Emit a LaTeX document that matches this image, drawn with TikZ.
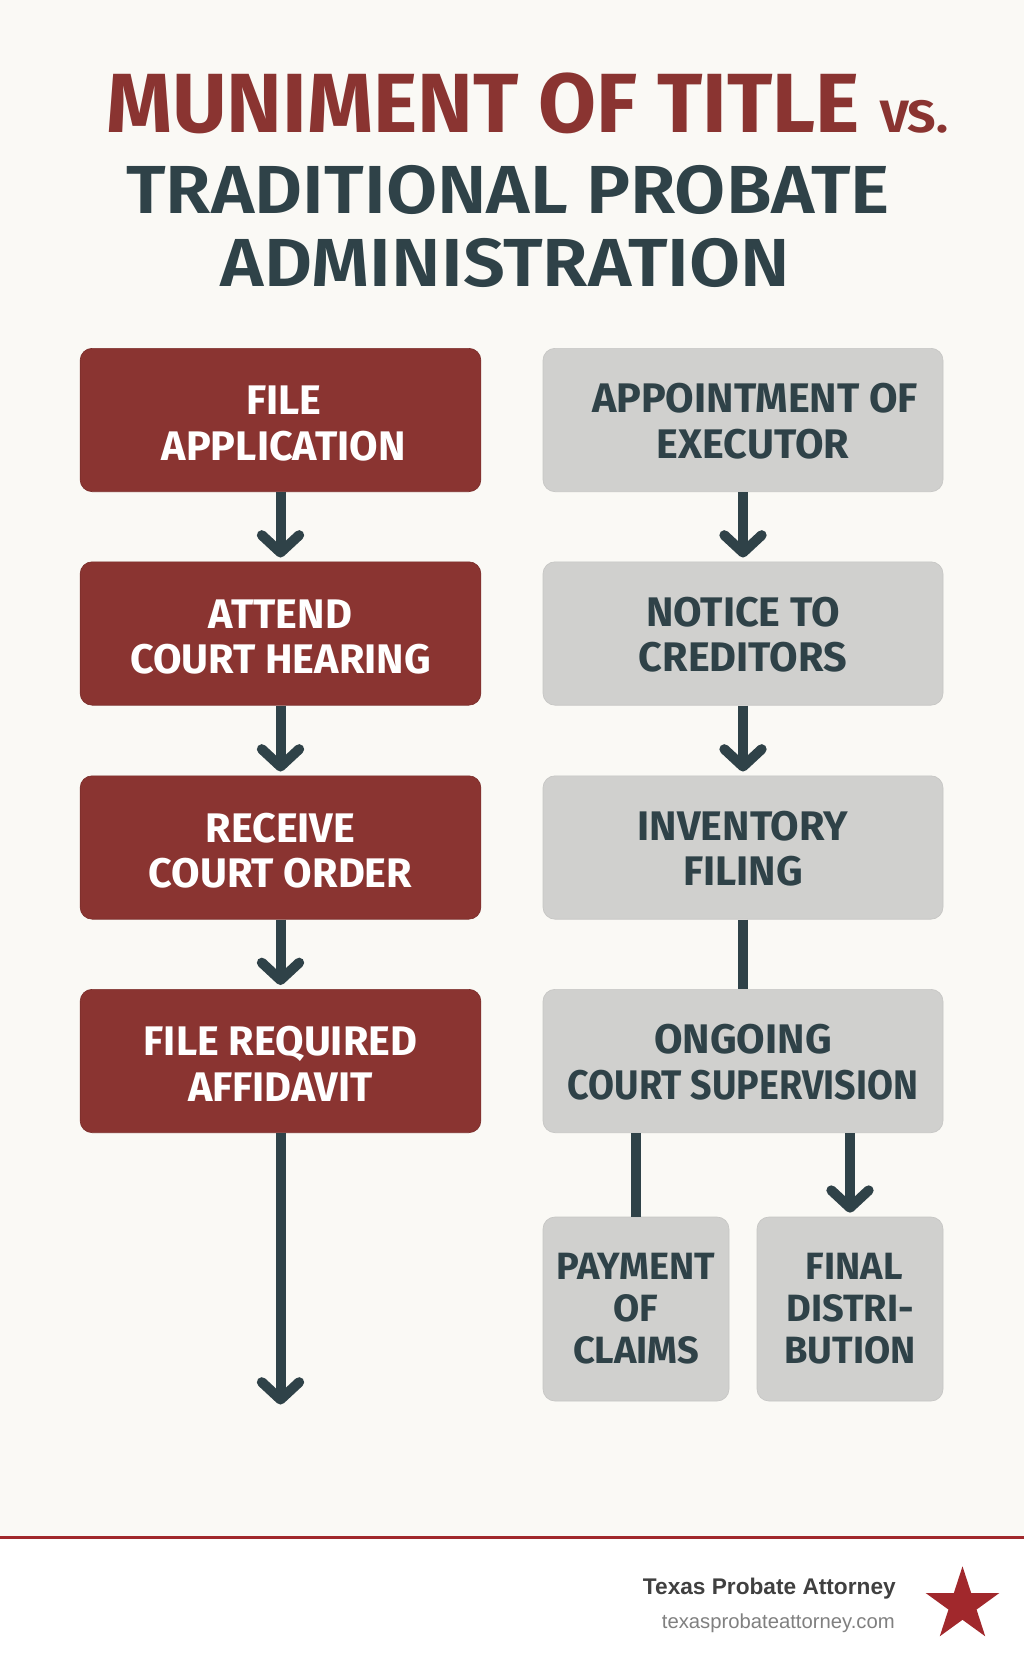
\documentclass[tikz,border=0pt]{standalone}
\usepackage{fontspec}
\setmainfont{Fira Sans}
\newfontfamily\footfont{Liberation Sans}
\newfontfamily\subtitlefont[FakeStretch=1.09]{Fira Sans SemiBold}
\newfontfamily\versusfont[FakeStretch=1.1]{Fira Sans}
\newfontfamily\narrowfont[FakeStretch=.91]{Fira Sans}
\usetikzlibrary{shapes.geometric,arrows.meta}
\definecolor{bgcol}{HTML}{FAF9F5}
\definecolor{redcol}{HTML}{8A3431}
\definecolor{slatecol}{HTML}{2F4248}
\definecolor{greycol}{HTML}{D0D0CE}
\definecolor{rulecol}{HTML}{A1282C}
\newcommand{\bigfont}{\bfseries\fontsize{63}{63}\selectfont}
\newcommand{\subfont}{\subtitlefont\fontsize{51}{51}\selectfont}
\newcommand{\stepfont}{\fontsize{31}{33.8}\selectfont\bfseries}
\newcommand{\smallfont}{\fontsize{28.5}{31.5}\selectfont\bfseries}
\tikzset{
  basebox/.style={rectangle,rounded corners=9pt,minimum height=107.5pt,align=center,
    font=\stepfont,inner sep=0pt},
  redbox/.style={basebox,fill=redcol,draw=redcol!90!black,line width=.5pt,text=white,minimum width=300.5pt,
    text height=60pt,text depth=0pt},
  greybox/.style={basebox,fill=greycol,draw=greycol!95!black,line width=.5pt,text=slatecol,minimum width=300pt,
    text height=57pt,text depth=0pt},
  smallbox/.style={basebox,fill=greycol,draw=greycol!95!black,line width=.5pt,text=slatecol,
    font=\smallfont,minimum width=139.5pt,minimum height=138pt},
  titletext/.style={inner sep=0pt,anchor=base},
  flowline/.style={draw=slatecol,line width=7.5pt},
  flowarrow/.style={flowline,-{Straight Barb[length=13pt,width=28pt,round]},shorten >=3pt}
}
\begin{document}
\begin{tikzpicture}[x=.75pt,y=-.75pt]
	\useasboundingbox (0,0) rectangle (1024,1666);
	\fill[white] (0,0) rectangle (1024,1666);
	\fill[bgcol] (0,0) rectangle (1024,1537);
	\draw[rulecol,line width=2.25pt] (0,1537.5) -- (1024,1537.5);
	% heading
	\node[titletext,text=redcol,font=\bigfont] (title) at (483,133) {MUNIMENT OF TITLE};
	\node[titletext,text=redcol,anchor=base west,font=\versusfont\fontsize{34}{34}\selectfont\bfseries] (versus) at (880,133) {VS.};
	\node[titletext,text=slatecol,font=\subfont] (subone) at (508,214) {TRADITIONAL PROBATE};
	\node[titletext,text=slatecol,font=\subfont] (subtwo) at (505.5,286) {ADMINISTRATION};
	% left column
	\node[redbox] (file) at (280.5,420) {\hspace*{4.8pt}FILE\\\hspace*{4.8pt}APPLICATION};
	\node[redbox] (attend) at (280.5,633.5) {ATTEND\\COURT HEARING};
	\node[redbox] (receive) at (280.5,847.5) {RECEIVE\\COURT ORDER};
	\node[redbox] (affidavit) at (280.5,1061) {FILE REQUIRED\\AFFIDAVIT};
	\coordinate (leftend) at (280.5,1404.5);
	% right column
	\node[greybox] (executor) at (743,420) {\hspace*{18pt}APPOINTMENT OF\\\hspace*{15pt}EXECUTOR};
	\node[greybox] (notice) at (743,633.5) {NOTICE TO\\CREDITORS};
	\node[greybox] (inventory) at (743,847.5) {INVENTORY\\FILING};
	\node[greybox] (ongoing) at (743,1061) {ONGOING\\{\narrowfont COURT SUPERVISION}};
	\node[smallbox] (payment) at (636,1309) {PAYMENT\\OF\\CLAIMS};
	\node[smallbox] (final) at (850,1309) {\hspace*{6.4pt}FINAL\\DISTRI-\\BUTION};
	% connectors
	\draw[flowarrow] (file) -- (attend);
	\draw[flowarrow] (attend) -- (receive);
	\draw[flowarrow] (receive) -- (affidavit);
	\draw[flowarrow,shorten >=0pt] (affidavit) -- (leftend);
	\draw[flowarrow] (executor) -- (notice);
	\draw[flowarrow] (notice) -- (inventory);
	\draw[flowline] (inventory) -- (ongoing);
	\draw[flowline] (ongoing.south -| payment.north) -- (payment.north);
	\draw[flowarrow] (ongoing.south -| final.north) -- (final.north);
	% footer
	\node[inner sep=0pt,anchor=base east,text=black!75,font=\footfont\bfseries\fontsize{17}{17}\selectfont] (brand) at (896,1594) {Texas Probate Attorney};
	\node[inner sep=0pt,anchor=base east,text=black!50,font=\footfont\fontsize{15.2}{15.2}\selectfont] (site) at (895,1628) {texasprobateattorney.com};
	\node[star,star points=5,star point ratio=2.618,fill=rulecol,minimum size=58pt,inner sep=0pt] (badge) at (962.5,1605) {};
\end{tikzpicture}
\end{document}
